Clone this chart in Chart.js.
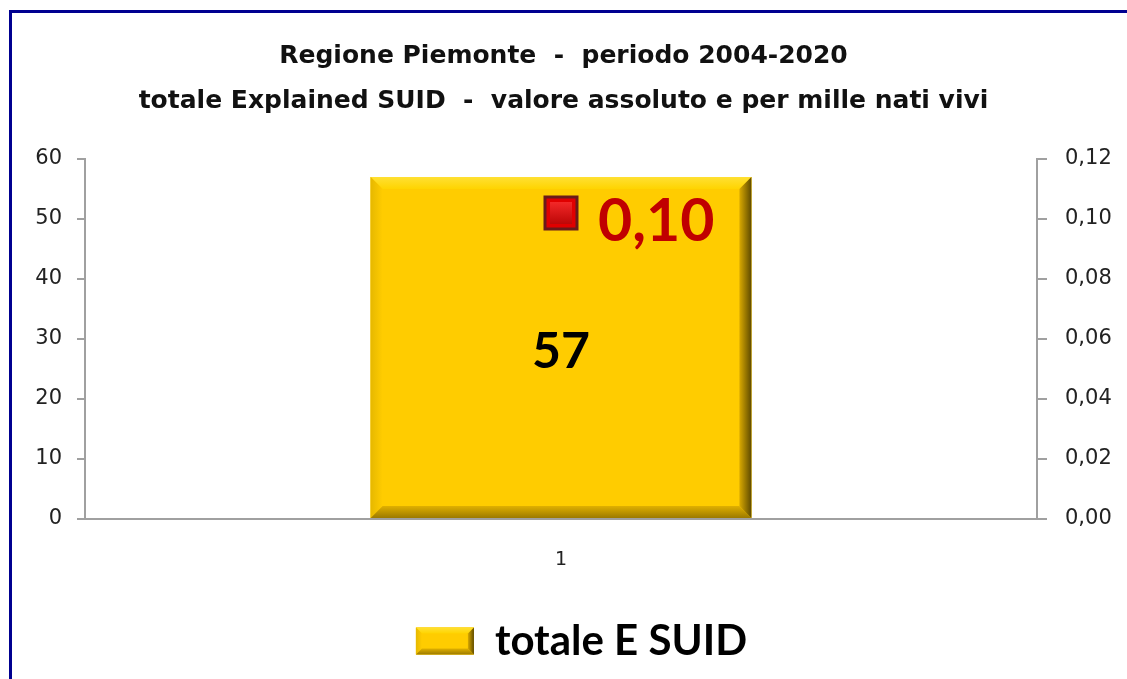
<!DOCTYPE html>
<html>
<head>
<meta charset="utf-8">
<script src="https://cdn.jsdelivr.net/npm/chart.js@4"></script>
<style>
  html, body { margin: 0; padding: 0; background: #fff; overflow: hidden; }
  #wrap { width: 1127px; height: 679px; position: relative; }
</style>
</head>
<body>
<div id="wrap"><canvas id="suidChart" width="1127" height="679"></canvas></div>
<script>
// data
const categories = ["1"];
const totaleESuid = [57];
const perMille = [0.102];
const perMilleLabels = ["0,10"];
const leftTicks = [0, 10, 20, 30, 40, 50, 60];
const rightTicks = [0, 0.02, 0.04, 0.06, 0.08, 0.10, 0.12];

const gold = "#FFCC00";

function bevelRect(ctx, x, y, w, h, b) {
  ctx.save();
  ctx.fillStyle = gold;
  ctx.fillRect(x, y, w, h);
  // top
  let g = ctx.createLinearGradient(0, y, 0, y + b);
  g.addColorStop(0, "#FFE033"); g.addColorStop(1, "#FFD400");
  ctx.fillStyle = g;
  ctx.beginPath(); ctx.moveTo(x, y); ctx.lineTo(x + w, y); ctx.lineTo(x + w - b, y + b); ctx.lineTo(x + b, y + b); ctx.closePath(); ctx.fill();
  // left
  g = ctx.createLinearGradient(x, 0, x + b, 0);
  g.addColorStop(0, "#E6B800"); g.addColorStop(1, "#FFCC00");
  ctx.fillStyle = g;
  ctx.beginPath(); ctx.moveTo(x, y); ctx.lineTo(x + b, y + b); ctx.lineTo(x + b, y + h - b); ctx.lineTo(x, y + h); ctx.closePath(); ctx.fill();
  // bottom
  g = ctx.createLinearGradient(0, y + h - b, 0, y + h);
  g.addColorStop(0, "#E0B000"); g.addColorStop(1, "#9C7A00");
  ctx.fillStyle = g;
  ctx.beginPath(); ctx.moveTo(x, y + h); ctx.lineTo(x + b, y + h - b); ctx.lineTo(x + w - b, y + h - b); ctx.lineTo(x + w, y + h); ctx.closePath(); ctx.fill();
  // right
  g = ctx.createLinearGradient(x + w - b, 0, x + w, 0);
  g.addColorStop(0, "#D9A900"); g.addColorStop(1, "#5E4A00");
  ctx.fillStyle = g;
  ctx.beginPath(); ctx.moveTo(x + w, y); ctx.lineTo(x + w, y + h); ctx.lineTo(x + w - b, y + h - b); ctx.lineTo(x + w - b, y + b); ctx.closePath(); ctx.fill();
  ctx.restore();
}

const decor = {
  id: "decor",
  afterLayout(chart) {
    // legend sits a bit right of centre in the original
    const lg = chart.legend;
    if (lg && lg.legendHitBoxes) {
      const tops = lg.legendHitBoxes.map(h => h.top);
      lg.left += 18; lg.right += 18;
      lg.adjustHitBoxes();
      lg.legendHitBoxes.forEach((h, i) => { h.top = tops[i]; });
    }
  },
  beforeDraw(chart) {
    const ctx = chart.ctx;
    ctx.save();
    ctx.strokeStyle = "#000090";
    ctx.lineWidth = 3;
    ctx.strokeRect(10.5, 11.5, 1300, 900);
    ctx.restore();
  },
  afterDatasetsDraw(chart) {
    const ctx = chart.ctx;
    const barMeta = chart.getDatasetMeta(0);
    barMeta.data.forEach((bar, i) => {
      const left = bar.x - bar.width / 2;
      const top = bar.y;
      bevelRect(ctx, left, top, bar.width, bar.base - top, 12);
      ctx.save();
      ctx.font = "bold 50px Lato";
      ctx.fillStyle = "#000";
      ctx.textAlign = "center";
      ctx.textBaseline = "middle";
      ctx.fillText(String(totaleESuid[i]), bar.x, (bar.y + bar.base) / 2 + 4);
      ctx.restore();
    });
    // markers drawn over the bevel
    const ptMeta = chart.getDatasetMeta(1);
    ptMeta.data.forEach((pt, i) => {
      const s = 16;
      ctx.save();
      ctx.fillStyle = "#E00000";
      ctx.fillRect(pt.x - s, pt.y - s, 2 * s, 2 * s);
      let g = ctx.createLinearGradient(0, pt.y - s, 0, pt.y + s);
      g.addColorStop(0, "#FF3030"); g.addColorStop(1, "#B00000");
      ctx.fillStyle = g;
      ctx.fillRect(pt.x - s + 5, pt.y - s + 5, 2 * s - 10, 2 * s - 10);
      ctx.strokeStyle = "#6A1A1A";
      ctx.lineWidth = 3;
      ctx.strokeRect(pt.x - s, pt.y - s, 2 * s, 2 * s);
      ctx.font = "bold 59px Lato";
      ctx.fillStyle = "#C00000";
      ctx.textAlign = "left";
      ctx.textBaseline = "middle";
      ctx.fillText(perMilleLabels[i], pt.x + 37, pt.y + 9);
      ctx.restore();
    });
  },
  afterDraw(chart) {
    const boxes = chart.legend && chart.legend.legendHitBoxes;
    if (!boxes || !boxes.length) return;
    const hb = boxes[0];
    const bw = chart.legend.options.labels.boxWidth;
    const bh = chart.legend.options.labels.boxHeight;
    const y = hb.top + (hb.height - bh) / 2;
    bevelRect(chart.ctx, hb.left, y, bw, bh, 6);
  }
};

new Chart(document.getElementById("suidChart"), {
  data: {
    labels: categories,
    datasets: [{
      type: "bar",
      label: "totale E SUID",
      data: totaleESuid,
      backgroundColor: gold,
      yAxisID: "y",
      barPercentage: 0.4,
      categoryPercentage: 1,
      order: 2
    }, {
      type: "line",
      label: "per mille",
      data: perMille,
      yAxisID: "y1",
      showLine: false,
      pointStyle: "rect",
      pointRadius: 0,
      backgroundColor: "#E00000",
      order: 1
    }]
  },
  options: {
    responsive: false,
    animation: false,
    layout: { padding: { left: 0, right: 0, top: 0, bottom: 7 } },
    plugins: {
      title: {
        display: true,
        text: ["Regione Piemonte  -  periodo 2004-2020", "totale Explained SUID  -  valore assoluto e per mille nati vivi"],
        color: "#111",
        font: { family: "DejaVu Sans", size: 25, weight: "bold", lineHeight: 1.8 },
        padding: { top: 34, bottom: 35 }
      },
      legend: {
        position: "bottom",
        labels: {
          filter: (item) => item.datasetIndex === 0,
          boxWidth: 58,
          boxHeight: 27,
          padding: 10,
          color: "#000",
          font: { family: "Lato", size: 42, weight: "bold" }
        }
      },
      tooltip: { enabled: false }
    },
    scales: {
      x: {
        grid: { display: false },
        border: { display: true, color: "#A0A0A0", width: 2 },
        ticks: { color: "#222", padding: 22, font: { family: "DejaVu Sans", size: 19 } },
        afterFit: (s) => { s.height = 91; }
      },
      y: {
        position: "left",
        min: 0, max: 60,
        afterBuildTicks: (s) => { s.ticks = leftTicks.map(v => ({ value: v })); },
        grid: { drawOnChartArea: false, drawTicks: true, tickLength: 8, color: "#A0A0A0", lineWidth: 2 },
        border: { display: true, color: "#A0A0A0", width: 2 },
        ticks: { color: "#222", padding: 15, font: { family: "DejaVu Sans", size: 21 } },
        afterFit: (s) => { s.width = 85; }
      },
      y1: {
        position: "right",
        min: 0, max: 0.12,
        afterBuildTicks: (s) => { s.ticks = rightTicks.map(v => ({ value: v })); },
        grid: { drawOnChartArea: false, drawTicks: true, tickLength: 10, color: "#A0A0A0", lineWidth: 2 },
        border: { display: true, color: "#A0A0A0", width: 2 },
        ticks: {
          color: "#222", padding: 18, font: { family: "DejaVu Sans", size: 21 },
          callback: (v) => v.toFixed(2).replace(".", ",")
        },
        afterFit: (s) => { s.width = 90; }
      }
    }
  },
  plugins: [decor]
});
</script>
</body>
</html>
